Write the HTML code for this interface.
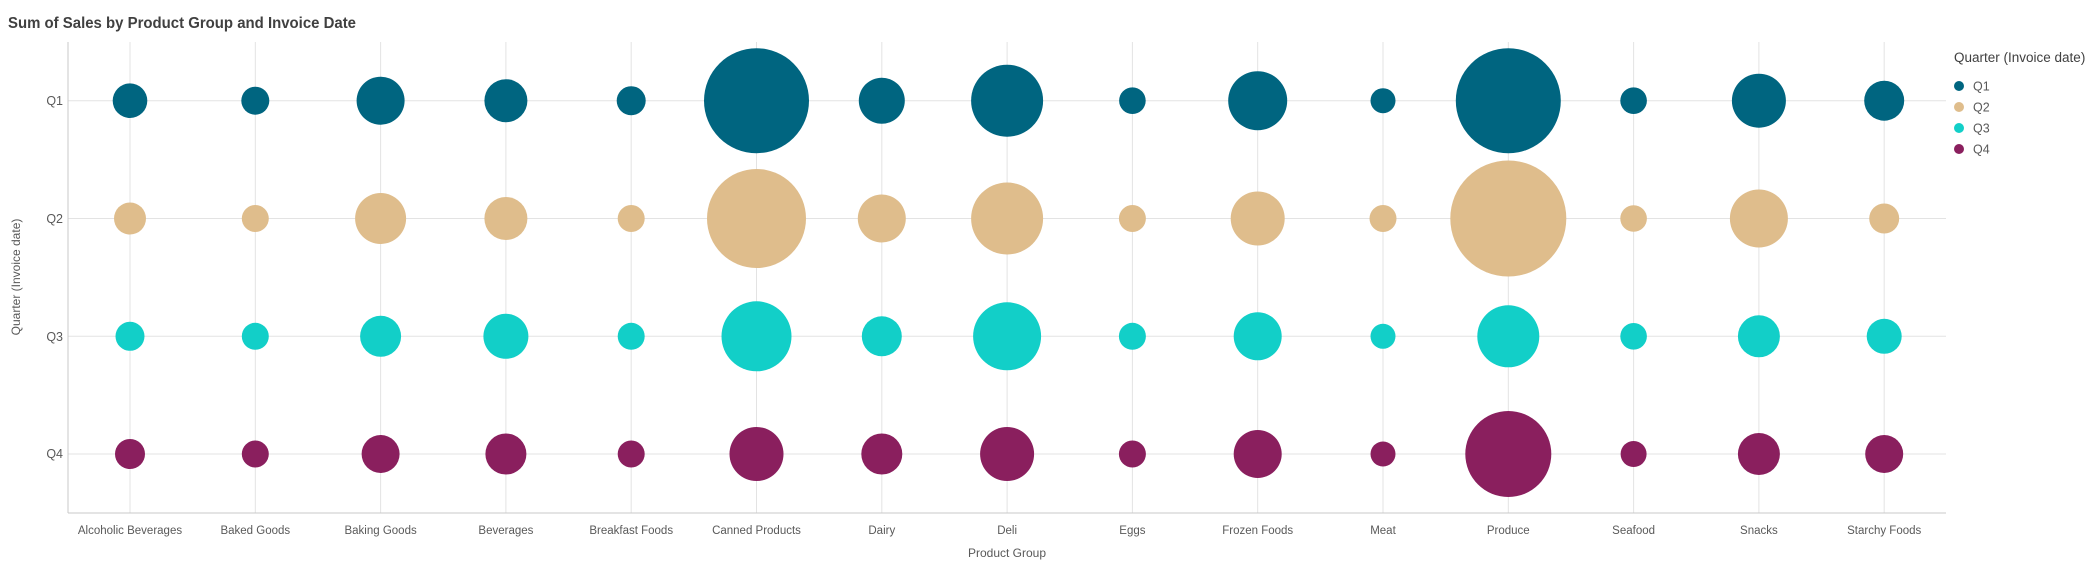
<!DOCTYPE html>
<html><head><meta charset="utf-8"><style>
html,body{margin:0;padding:0;background:#fff;}
svg{display:block;font-family:"Liberation Sans",sans-serif;}
</style></head><body>
<svg width="2093" height="565" viewBox="0 0 2093 565" xmlns="http://www.w3.org/2000/svg">
<text x="8" y="28" font-size="16" font-weight="bold" fill="#404040" textLength="348" lengthAdjust="spacingAndGlyphs">Sum of Sales by Product Group and Invoice Date</text>
<g stroke="#e3e3e3" stroke-width="1">
<line x1="68" y1="100.7" x2="1946" y2="100.7"/>
<line x1="68" y1="218.5" x2="1946" y2="218.5"/>
<line x1="68" y1="336.3" x2="1946" y2="336.3"/>
<line x1="68" y1="454" x2="1946" y2="454"/>
</g>
<g id="vg" stroke="#e3e3e3" stroke-width="1"></g>
<line x1="68" y1="42" x2="68" y2="513" stroke="#c8c8c8"/>
<line x1="68" y1="513" x2="1946" y2="513" stroke="#c8c8c8"/>
<g font-size="12.5" fill="#595959" text-anchor="end">
<text x="63" y="105">Q1</text><text x="63" y="223">Q2</text><text x="63" y="341">Q3</text><text x="63" y="458">Q4</text>
</g>
<text transform="translate(20,277) rotate(-90)" font-size="12" fill="#595959" text-anchor="middle">Quarter (Invoice date)</text>
<text x="1007" y="557" font-size="12" fill="#595959" text-anchor="middle">Product Group</text>
<g id="xl" font-size="11.5" fill="#595959" text-anchor="middle"></g>
<g id="bub"></g>
<text x="1954" y="62" font-size="13.5" fill="#404040">Quarter (Invoice date)</text>
<circle cx="1959" cy="86" r="5" fill="#006580"/><text x="1973" y="90.5" font-size="12.5" fill="#595959">Q1</text>
<circle cx="1959" cy="107" r="5" fill="#DFBD8C"/><text x="1973" y="111.5" font-size="12.5" fill="#595959">Q2</text>
<circle cx="1959" cy="128" r="5" fill="#12CFC8"/><text x="1973" y="132.5" font-size="12.5" fill="#595959">Q3</text>
<circle cx="1959" cy="149" r="5" fill="#8A1F5E"/><text x="1973" y="153.5" font-size="12.5" fill="#595959">Q4</text>
</svg>
<script>
var names=["Alcoholic Beverages","Baked Goods","Baking Goods","Beverages","Breakfast Foods","Canned Products","Dairy","Deli","Eggs","Frozen Foods","Meat","Produce","Seafood","Snacks","Starchy Foods"];
var rows=[100.7,218.5,336.3,454];
var cols=["#006580","#DFBD8C","#12CFC8","#8A1F5E"];
var R=[
[17.3,14,24,21.5,14.5,52.5,23,36,13.3,29.5,12.5,52.5,13.3,27,20],
[16,13.5,25.5,21.5,13.5,49.5,24,36,13.5,27,13.5,58,13.3,29,15],
[14.5,13.5,20.5,22.5,13.5,35,20,34,13.5,24,12.5,31,13.3,21,17.5],
[15,13.5,19,20.5,13.5,27,20.5,27,13.5,24,12.5,43,13,21,19]];
var ns="http://www.w3.org/2000/svg";
var vg=document.getElementById("vg"),xl=document.getElementById("xl"),b=document.getElementById("bub");
for(var i=0;i<15;i++){
 var x=130+i*125.3;
 var l=document.createElementNS(ns,"line");l.setAttribute("x1",x);l.setAttribute("x2",x);l.setAttribute("y1",42);l.setAttribute("y2",513);vg.appendChild(l);
 var t=document.createElementNS(ns,"text");t.setAttribute("x",x);t.setAttribute("y",534);t.textContent=names[i];xl.appendChild(t);
 for(var q=0;q<4;q++){var c=document.createElementNS(ns,"circle");c.setAttribute("cx",x);c.setAttribute("cy",rows[q]);c.setAttribute("r",R[q][i]);c.setAttribute("fill",cols[q]);b.appendChild(c);}
}
</script>
</body></html>
